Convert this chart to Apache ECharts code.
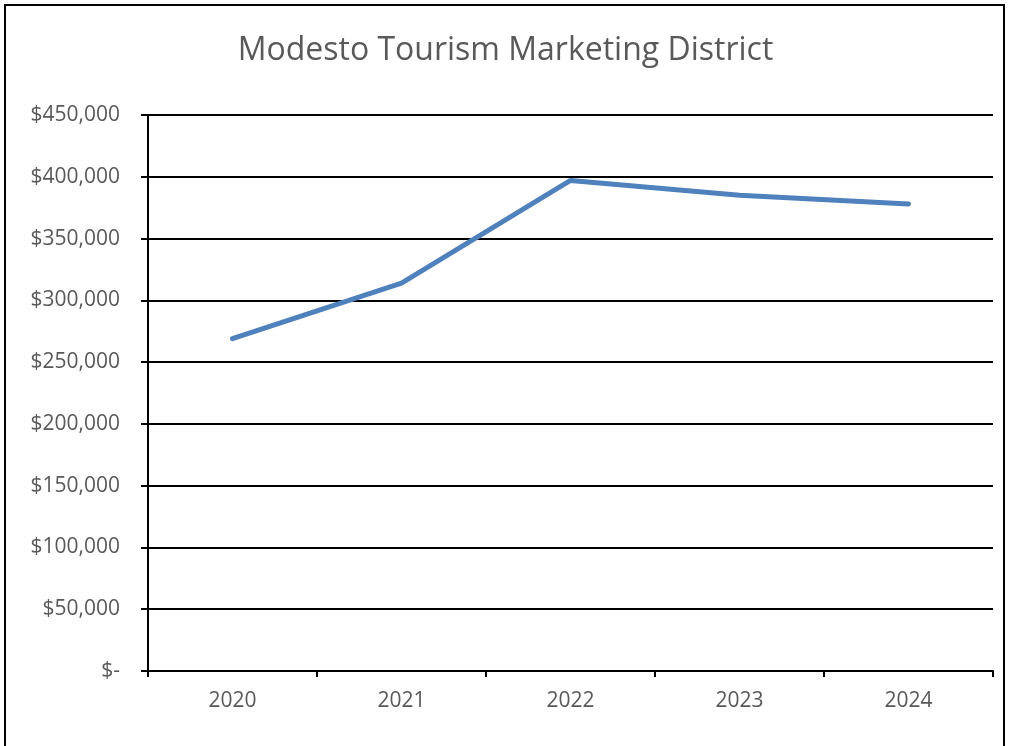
<!DOCTYPE html>
<html>
<head>
<meta charset="utf-8">
<title>Modesto Tourism Marketing District</title>
<script src="https://cdn.jsdelivr.net/npm/echarts@6/dist/echarts.min.js"></script>
<style>
  html, body { margin: 0; padding: 0; background: #fff; }
  #frame {
    position: absolute; left: 4px; top: 4px;
    width: 1001px; height: 760px;
    border: 2px solid #000; box-sizing: border-box;
  }
  #chart { position: absolute; left: 0; top: 0; width: 1011px; height: 746px; }
</style>
</head>
<body>
<div id="frame"></div>
<div id="chart"></div>
<script>
  // data
  const years = ['2020', '2021', '2022', '2023', '2024'];
  const revenue = [269000, 314000, 397000, 385000, 378000];
  const yTicks = [0, 50000, 100000, 150000, 200000, 250000, 300000, 350000, 400000, 450000];

  const textColor = '#595959';
  const font = 'Open Sans';

  const myChart = echarts.init(document.getElementById('chart'));
  myChart.setOption({
    animation: false,
    title: {
      text: 'Modesto Tourism Marketing District',
      left: 'center',
      top: 30,
      textStyle: { color: textColor, fontSize: 32, fontWeight: 'normal', fontFamily: font }
    },
    grid: { left: 148, right: 18, top: 115, bottom: 75 },
    xAxis: {
      type: 'category',
      data: years,
      boundaryGap: true,
      axisLine: { lineStyle: { color: '#000', width: 2 } },
      axisTick: { show: true, length: 6, lineStyle: { color: '#000', width: 2 } },
      axisLabel: { color: textColor, fontSize: 21, fontFamily: font, margin: 20 }
    },
    yAxis: {
      type: 'value',
      min: yTicks[0],
      max: yTicks[yTicks.length - 1],
      interval: 50000,
      axisLine: { show: true, lineStyle: { color: '#000', width: 2 } },
      axisTick: { show: true, length: 7, lineStyle: { color: '#000', width: 2 } },
      splitLine: { lineStyle: { color: '#000', width: 2 } },
      axisLabel: {
        color: textColor, fontSize: 21, fontFamily: font, margin: 28,
        formatter: function (v) {
          return v === 0 ? '$-' : '$' + v.toLocaleString('en-US');
        }
      }
    },
    series: [{
      type: 'line',
      data: revenue,
      symbol: 'none',
      lineStyle: { color: '#4F81BD', width: 5, cap: 'round', join: 'round' }
    }]
  });
</script>
</body>
</html>
